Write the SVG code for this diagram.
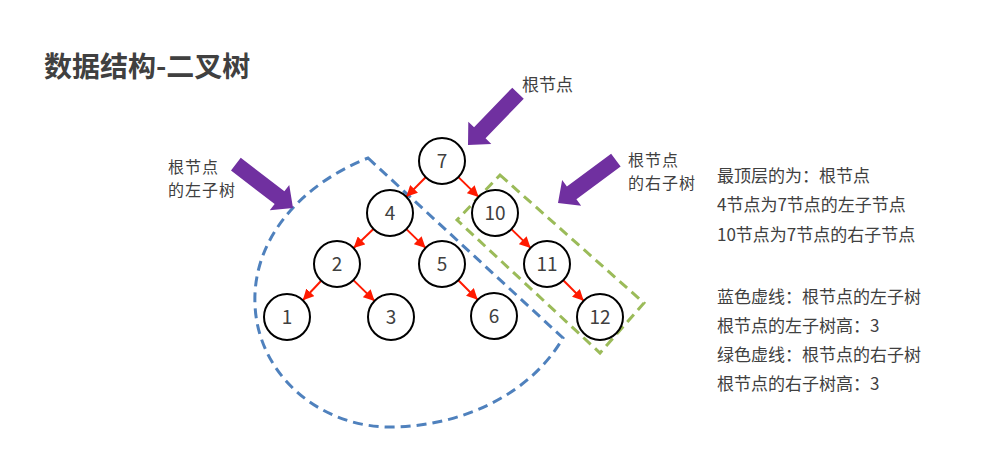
<svg xmlns="http://www.w3.org/2000/svg" width="992" height="450" viewBox="0 0 992 450">
<style>
text{font-family:"Noto Sans CJK SC","Microsoft YaHei",sans-serif;fill:#404040}
.title{font-size:28px;font-weight:bold}
.lbl{font-size:17px}
.lbl2{font-size:16px;letter-spacing:1px}
.num{font-size:19px;text-anchor:middle}
.node circle{fill:#fff;stroke:#000;stroke-width:2}
.edge{stroke:#ff1a00;stroke-width:2;fill:none;marker-end:url(#ah)}
.pa{fill:#7030A0}
</style>
<defs>
<marker id="ah" markerUnits="userSpaceOnUse" markerWidth="11" markerHeight="11" refX="11" refY="5.5" orient="auto">
<path d="M0,0 L11,5.5 L0,11 z" fill="#ff1a00"/>
</marker>
<polygon id="bigarrow" points="0,0 -17,-16 -17,-8 -72,-8 -72,8 -17,8 -17,16"/>
</defs>
<rect width="992" height="450" fill="#fff"/>
<text class="title" x="44" y="77">数据结构-二叉树</text>

<g id="subtree-outlines">
<path d="M368,158 L563,338 C530,395 460,427 390,427 C320,427 258,375 255,305 C252,240 300,185 368,158 Z" fill="none" stroke="#4F81BD" stroke-width="3" stroke-dasharray="10,6"/>
<polygon points="500,175 644,303 600,353 457,220" fill="none" stroke="#9BBB59" stroke-width="3" stroke-dasharray="10,6"/>
</g>

<g id="pointers">
<use href="#bigarrow" class="pa" transform="translate(468,145) rotate(134)"/>
<use href="#bigarrow" class="pa" transform="translate(293,208) rotate(37.5)"/>
<use href="#bigarrow" class="pa" transform="translate(558,203) rotate(143.5)"/>
</g>

<g id="connectors">
<line class="edge" x1="425.7" y1="177.3" x2="406.3" y2="196.7"/>
<line class="edge" x1="458.4" y1="177.1" x2="478.6" y2="196.9"/>
<line class="edge" x1="373.4" y1="229.0" x2="353.6" y2="248.0"/>
<line class="edge" x1="406.4" y1="229.1" x2="425.6" y2="247.9"/>
<line class="edge" x1="511.4" y1="229.1" x2="530.6" y2="247.9"/>
<line class="edge" x1="321.2" y1="280.7" x2="302.8" y2="300.3"/>
<line class="edge" x1="353.4" y1="280.1" x2="374.6" y2="300.9"/>
<line class="edge" x1="458.3" y1="280.3" x2="477.7" y2="299.7"/>
<line class="edge" x1="563.3" y1="280.3" x2="583.7" y2="300.7"/>
</g>

<g id="n7" class="node"><circle cx="442" cy="161" r="23"/><text class="num" x="442" y="168">7</text></g>
<g id="n4" class="node"><circle cx="390" cy="213" r="23"/><text class="num" x="390" y="220">4</text></g>
<g id="n10" class="node"><circle cx="495" cy="213" r="23"/><text class="num" x="495" y="220">10</text></g>
<g id="n2" class="node"><circle cx="337" cy="264" r="23"/><text class="num" x="337" y="271">2</text></g>
<g id="n5" class="node"><circle cx="442" cy="264" r="23"/><text class="num" x="442" y="271">5</text></g>
<g id="n11" class="node"><circle cx="547" cy="264" r="23"/><text class="num" x="547" y="271">11</text></g>
<g id="n1" class="node"><circle cx="287" cy="317" r="23"/><text class="num" x="287" y="324">1</text></g>
<g id="n3" class="node"><circle cx="391" cy="317" r="23"/><text class="num" x="391" y="324">3</text></g>
<g id="n6" class="node"><circle cx="494" cy="316" r="23"/><text class="num" x="494" y="323">6</text></g>
<g id="n12" class="node"><circle cx="600" cy="317" r="23"/><text class="num" x="600" y="324">12</text></g>

<g id="labels">
<text class="lbl" x="522" y="91">根节点</text>
<text class="lbl2" x="168" y="173">根节点</text>
<text class="lbl2" x="168" y="196">的左子树</text>
<text class="lbl2" x="628" y="166">根节点</text>
<text class="lbl2" x="628" y="189">的右子树</text>
</g>

<g id="notes">
<text class="lbl" x="717" y="182">最顶层的为：根节点</text>
<text class="lbl" x="717" y="211">4节点为7节点的左子节点</text>
<text class="lbl" x="717" y="241">10节点为7节点的右子节点</text>
<text class="lbl" x="717" y="303">蓝色虚线：根节点的左子树</text>
<text class="lbl" x="717" y="332">根节点的左子树高：3</text>
<text class="lbl" x="717" y="361">绿色虚线：根节点的右子树</text>
<text class="lbl" x="717" y="390">根节点的右子树高：3</text>
</g>
</svg>
